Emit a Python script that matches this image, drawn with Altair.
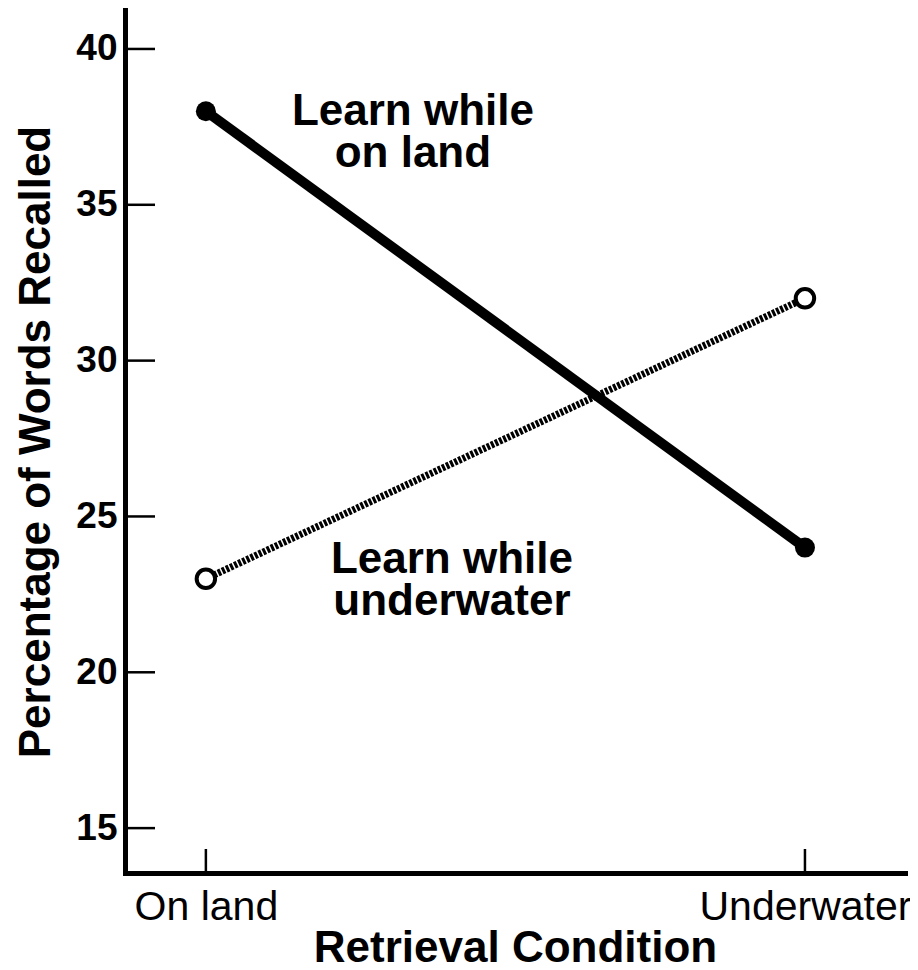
import altair as alt
import pandas as pd

# ---- data ----
conditions = ["On land", "Underwater"]
cond_pos = [0, 1]
learn_land = [38, 24]
learn_water = [23, 32]
y_ticks = [15, 20, 25, 30, 35, 40]

ann_text = [["Learn while", "on land"], ["Learn while", "underwater"]]
ann_x = [0.3456, 0.4107]
ann_y = [37.56, 23.18]

FONT = "Liberation Sans, Arial, Helvetica, sans-serif"
W, H = 780, 863

land_df = pd.DataFrame({"pos": cond_pos, "cond": conditions, "val": learn_land})
water_df = pd.DataFrame({"pos": cond_pos, "cond": conditions, "val": learn_water})
ytick_df = pd.DataFrame({"v": y_ticks})
xtick_df = pd.DataFrame({"pos": cond_pos})
ann_df = pd.DataFrame({"text": ann_text, "x": ann_x, "y": ann_y})

label_expr = " : ".join(
    [f"datum.value == {p} ? '{c}'" for p, c in zip(cond_pos[:-1], conditions[:-1])]
    + [f"'{conditions[-1]}'"]
)

xscale = alt.Scale(domain=[-0.135, 1.167], nice=False, zero=False)
yscale = alt.Scale(domain=[13.56, 41.25], nice=False, zero=False)

xaxis = alt.Axis(
    values=cond_pos, labelExpr=label_expr, ticks=False, grid=False,
    domainWidth=5, domainColor="black", domainCap="square",
    labelFont=FONT, labelFontSize=41, labelColor="black", labelPadding=14,
    labelFlush=False, labelOverlap=False, labelLimit=0,
    title="Retrieval Condition", titleFont=FONT, titleFontSize=44,
    titleFontWeight="bold", titleColor="black", titlePadding=-1,
)
yaxis = alt.Axis(
    values=y_ticks, ticks=False, grid=False,
    domainWidth=5, domainColor="black", domainCap="square",
    labelFont=FONT, labelFontSize=37, labelFontWeight="bold", labelColor="black",
    labelPadding=8,
    title="Percentage of Words Recalled", titleFont=FONT, titleFontSize=44,
    titleFontWeight="bold", titleColor="black", titlePadding=17,
)

x_enc = alt.X("pos:Q", scale=xscale, axis=xaxis)
y_enc = alt.Y("val:Q", scale=yscale, axis=yaxis)

base_axes = alt.Chart(land_df).mark_line(opacity=0).encode(x=x_enc, y=y_enc)

ytick_rules = alt.Chart(ytick_df).mark_rule(color="black", strokeWidth=2.5).encode(
    y=alt.Y("v:Q", scale=yscale), x=alt.value(0), x2=alt.value(30)
)
xtick_rules = alt.Chart(xtick_df).mark_rule(color="black", strokeWidth=2.5).encode(
    x=alt.X("pos:Q", scale=xscale), y=alt.value(H), y2=alt.value(H - 24)
)

land_line = alt.Chart(land_df).mark_line(color="black", strokeWidth=10).encode(
    x=alt.X("pos:Q", scale=xscale), y=alt.Y("val:Q", scale=yscale)
)
water_line = alt.Chart(water_df).mark_line(
    color="black", strokeWidth=7, strokeDash=[3, 1.5]
).encode(x=alt.X("pos:Q", scale=xscale), y=alt.Y("val:Q", scale=yscale))

land_pts = alt.Chart(land_df).mark_point(
    shape="circle", filled=True, color="black", size=400, opacity=1
).encode(x=alt.X("pos:Q", scale=xscale), y=alt.Y("val:Q", scale=yscale))
water_pts = alt.Chart(water_df).mark_point(
    shape="circle", filled=True, fill="white", stroke="black", strokeWidth=4,
    size=340, opacity=1
).encode(x=alt.X("pos:Q", scale=xscale), y=alt.Y("val:Q", scale=yscale))

ann = alt.Chart(ann_df).mark_text(
    font=FONT, fontSize=44, fontWeight="bold", color="black",
    align="center", baseline="alphabetic", lineHeight=42
).encode(
    x=alt.X("x:Q", scale=xscale), y=alt.Y("y:Q", scale=yscale), text="text"
)

chart = (
    alt.layer(base_axes, ytick_rules, xtick_rules, land_line, water_line,
              land_pts, water_pts, ann)
    .properties(
        width=W, height=H,
        autosize=alt.AutoSizeParams(type="none"),
        padding={"left": 117, "top": 2, "right": 5, "bottom": 97},
        background="white",
    )
    .configure_view(stroke=None)
)

chart.save("out.html", embed_options={"renderer": "svg", "actions": False})
